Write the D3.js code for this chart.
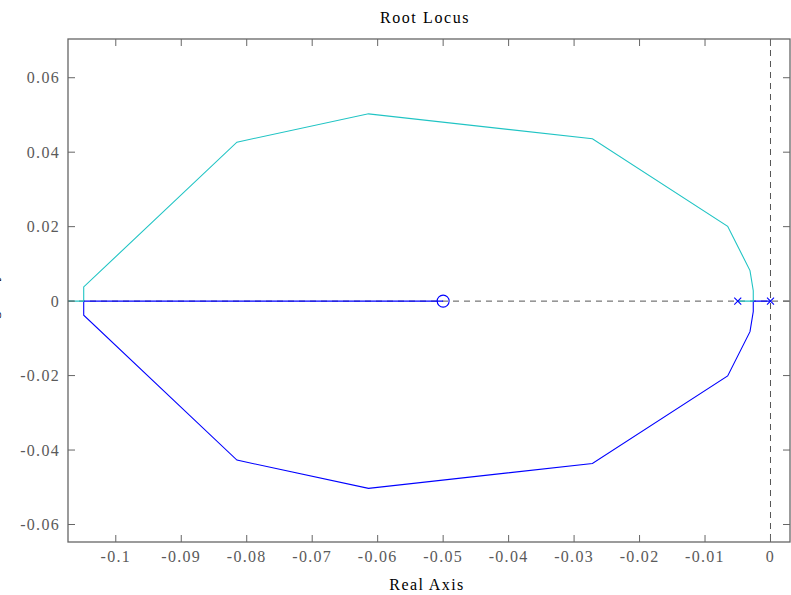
<!DOCTYPE html>
<html>
<head>
<meta charset="utf-8">
<script src="https://cdn.jsdelivr.net/npm/d3@7"></script>
<style>
  html, body { margin: 0; padding: 0; background: #fff; }
  svg text { font-family: "Liberation Serif", "DejaVu Serif", serif; }
</style>
</head>
<body>
<svg id="chart" width="791" height="595"></svg>
<script>
// Open-loop poles and zeros
const poleRe = [0, -0.005];
const zeroRe = [-0.05];

// Branch 1 (cyan): from pole at -0.005, breaks away, loops over the top, re-enters and heads to -inf
const branch1Re = [-0.005, -0.00263, -0.00263, -0.00313, -0.00654, -0.0272, -0.0614, -0.0815, -0.1049, -0.1049, -0.2];
const branch1Im = [0, 0, 0.0028, 0.0082, 0.0201, 0.0436, 0.0503, 0.0427, 0.0038, 0, 0];

// Branch 2 (blue): from pole at 0, loops underneath, re-enters and ends on the zero at -0.05
const branch2Re = [0, -0.00263, -0.00263, -0.00313, -0.00654, -0.0272, -0.0614, -0.0815, -0.1049, -0.1049, -0.05];
const branch2Im = [0, 0, -0.0028, -0.0082, -0.0201, -0.0436, -0.0503, -0.0427, -0.0038, 0, 0];

const xTicks = [-0.1, -0.09, -0.08, -0.07, -0.06, -0.05, -0.04, -0.03, -0.02, -0.01, 0];
const xTickLabels = ["-0.1", "-0.09", "-0.08", "-0.07", "-0.06", "-0.05", "-0.04", "-0.03", "-0.02", "-0.01", "0"];
const yTicks = [-0.06, -0.04, -0.02, 0, 0.02, 0.04, 0.06];
const yTickLabels = ["-0.06", "-0.04", "-0.02", "0", "0.02", "0.04", "0.06"];

const xDomain = [-0.1073, 0.00298];
const yDomain = [-0.0647, 0.0704];

const box = { left: 68, top: 39, right: 790, bottom: 542 };
const svg = d3.select("#chart");

const x = d3.scaleLinear().domain(xDomain).range([box.left, box.right]);
const y = d3.scaleLinear().domain(yDomain).range([box.bottom, box.top]);

const axisColor = "#666";
const labelColor = "#5a5a5a";
const tickLen = 7;

svg.append("defs").append("clipPath").attr("id", "plotclip")
  .append("rect")
  .attr("x", box.left).attr("y", box.top)
  .attr("width", box.right - box.left).attr("height", box.bottom - box.top);

const plot = svg.append("g").attr("clip-path", "url(#plotclip)");

// Dashed reference lines through the origin
plot.append("line")
  .attr("x1", box.left).attr("x2", box.right)
  .attr("y1", y(0)).attr("y2", y(0))
  .attr("stroke", "#555").attr("stroke-width", 1)
  .attr("stroke-dasharray", "6,5");
plot.append("line")
  .attr("x1", x(0)).attr("x2", x(0))
  .attr("y1", box.top).attr("y2", box.bottom)
  .attr("stroke", "#555").attr("stroke-width", 1)
  .attr("stroke-dasharray", "6,5");

const line = d3.line().x(d => x(d[0])).y(d => y(d[1]));

plot.append("path")
  .datum(branch2Re.map((r, i) => [r, branch2Im[i]]))
  .attr("d", line)
  .attr("fill", "none").attr("stroke", "#0000ff").attr("stroke-width", 1.1);

plot.append("path")
  .datum(branch1Re.map((r, i) => [r, branch1Im[i]]))
  .attr("d", line)
  .attr("fill", "none").attr("stroke", "#20c4c4").attr("stroke-width", 1.1);

// Pole markers (x)
const s = 3.5;
poleRe.forEach(p => {
  const cx = x(p), cy = y(0);
  plot.append("path")
    .attr("d", `M${cx - s},${cy - s}L${cx + s},${cy + s}M${cx - s},${cy + s}L${cx + s},${cy - s}`)
    .attr("stroke", "#0000ff").attr("stroke-width", 1.1).attr("fill", "none");
});

// Zero markers (o)
zeroRe.forEach(z => {
  plot.append("circle")
    .attr("cx", x(z)).attr("cy", y(0)).attr("r", 6)
    .attr("fill", "none").attr("stroke", "#0000ff").attr("stroke-width", 1.1);
});

// Axes box
svg.append("rect")
  .attr("x", box.left).attr("y", box.top)
  .attr("width", box.right - box.left).attr("height", box.bottom - box.top)
  .attr("fill", "none").attr("stroke", axisColor).attr("stroke-width", 1.3);

// Ticks on all four sides, pointing inward
const ticks = svg.append("g").attr("stroke", axisColor).attr("stroke-width", 1);
xTicks.forEach(t => {
  const px = x(t);
  ticks.append("line").attr("x1", px).attr("x2", px).attr("y1", box.bottom).attr("y2", box.bottom - tickLen);
  ticks.append("line").attr("x1", px).attr("x2", px).attr("y1", box.top).attr("y2", box.top + tickLen);
});
yTicks.forEach(t => {
  const py = y(t);
  ticks.append("line").attr("x1", box.left).attr("x2", box.left + tickLen).attr("y1", py).attr("y2", py);
  ticks.append("line").attr("x1", box.right).attr("x2", box.right - tickLen).attr("y1", py).attr("y2", py);
});

// Tick labels
svg.append("g").selectAll("text").data(xTicks).join("text")
  .attr("x", d => x(d)).attr("y", 562)
  .attr("text-anchor", "middle")
  .attr("font-size", 16).attr("letter-spacing", "1.3px")
  .attr("fill", labelColor)
  .text((d, i) => xTickLabels[i]);

svg.append("g").selectAll("text").data(yTicks).join("text")
  .attr("x", 60).attr("y", d => y(d))
  .attr("dy", "0.35em")
  .attr("text-anchor", "end")
  .attr("font-size", 16).attr("letter-spacing", "1.3px")
  .attr("fill", labelColor)
  .text((d, i) => yTickLabels[i]);

// Title and axis labels
svg.append("text")
  .attr("x", (box.left + box.right) / 2 - 4).attr("y", 23)
  .attr("text-anchor", "middle").attr("font-size", 16).attr("letter-spacing", "1.6px")
  .attr("fill", "#000").text("Root Locus");

svg.append("text")
  .attr("x", (box.left + box.right) / 2 - 2).attr("y", 590)
  .attr("text-anchor", "middle").attr("font-size", 16).attr("letter-spacing", "1.4px")
  .attr("fill", "#000").text("Real Axis");

svg.append("text")
  .attr("transform", `translate(-3,${(box.top + box.bottom) / 2}) rotate(-90)`)
  .attr("text-anchor", "middle").attr("font-size", 16).attr("letter-spacing", "1px")
  .attr("fill", "#000").text("Imaginary Axis");
</script>
</body>
</html>
